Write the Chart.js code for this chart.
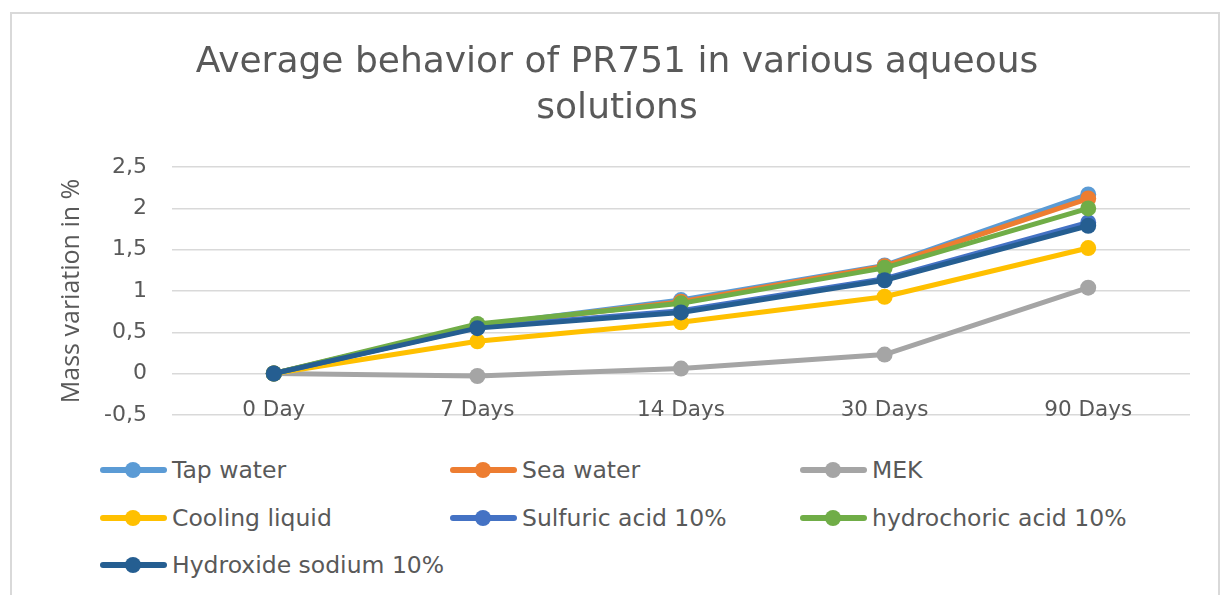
<!DOCTYPE html>
<html>
<head>
<meta charset="utf-8">
<script src="https://cdn.jsdelivr.net/npm/chart.js@4.4.1/dist/chart.umd.min.js"></script>
<style>
  html, body { margin: 0; padding: 0; background: #fff; }
  body { width: 1223px; height: 595px; position: relative; overflow: hidden; }
  .frame { position: absolute; left: 10px; top: 12px; width: 1210px; height: 600px; border: 2px solid #d9d9d9; box-sizing: border-box; }
  .wrap { position: absolute; left: 0; top: 0; width: 1223px; height: 453px; }
  .legend { position: absolute; left: 100px; top: 453px; display: grid; grid-template-columns: 350px 350px 350px; grid-auto-rows: 47.5px;
    font-family: "DejaVu Sans", sans-serif; font-size: 23.5px; color: #595959; }
  .item { display: flex; align-items: center; height: 34px; white-space: nowrap; }
  .mark { position: relative; width: 67px; height: 18px; margin-right: 5px; flex: none; }
  .mark .ln { position: absolute; left: 0; right: 0; top: 6px; height: 6px; border-radius: 3px; }
  .mark .dot { position: absolute; left: 25px; top: 1px; width: 16px; height: 16px; border-radius: 50%; }
</style>
</head>
<body>
<div class="frame"></div>
<div class="wrap"><canvas id="myChart"></canvas></div>
<div class="legend" id="legend"></div>
<script>
const categories = ["0 Day", "7 Days", "14 Days", "30 Days", "90 Days"];
const seriesNames = ["Tap water", "Sea water", "MEK", "Cooling liquid", "Sulfuric acid 10%", "hydrochoric acid 10%", "Hydroxide sodium 10%"];
const tapWater = [0, 0.58, 0.89, 1.31, 2.17];
const seaWater = [0, 0.58, 0.87, 1.30, 2.12];
const mek = [0, -0.03, 0.06, 0.23, 1.04];
const coolingLiquid = [0, 0.39, 0.62, 0.93, 1.52];
const sulfuricAcid = [0, 0.56, 0.76, 1.15, 1.83];
const hydrochoricAcid = [0, 0.60, 0.85, 1.28, 2.00];
const hydroxideSodium = [0, 0.55, 0.74, 1.13, 1.79];
const yTicks = [-0.5, 0, 0.5, 1, 1.5, 2, 2.5];
const colors = ["#5B9BD5", "#ED7D31", "#A5A5A5", "#FFC000", "#4472C4", "#70AD47", "#255E91"];

const values = [tapWater, seaWater, mek, coolingLiquid, sulfuricAcid, hydrochoricAcid, hydroxideSodium];

const datasets = values.map((data, i) => ({
  label: seriesNames[i],
  data: data,
  borderColor: colors[i],
  backgroundColor: colors[i],
  borderWidth: 5,
  pointRadius: 8,
  pointBorderWidth: 0,
  pointHoverRadius: 8,
  tension: 0,
  order: values.length - i,
}));

const ctx = document.getElementById("myChart");

new Chart(ctx, {
  type: "line",
  data: { labels: categories, datasets: datasets },
  options: {
    responsive: true,
    maintainAspectRatio: false,
    animation: false,
    layout: { padding: { left: 44, right: 33, top: 0, bottom: 26 } },
    plugins: {
      legend: { display: false },
      tooltip: { enabled: false },
      title: {
        display: true,
        text: ["Average behavior of PR751 in various aqueous", "solutions"],
        color: "#595959",
        font: { family: "'DejaVu Sans', sans-serif", size: 36, weight: "normal", lineHeight: 1.28 },
        padding: { top: 40, bottom: 35 },
      },
    },
    scales: {
      x: {
        position: { y: 0 },
        offset: true,
        grid: { display: false, drawTicks: false },
        border: { display: false },
        ticks: { color: "#595959", font: { family: "'DejaVu Sans', sans-serif", size: 21.5 }, padding: 24, maxRotation: 0 },
      },
      y: {
        min: -0.5,
        max: 2.5,
        afterBuildTicks: (scale) => { scale.ticks = yTicks.map((v) => ({ value: v })); },
        afterFit: (scale) => { scale.width = 128; },
        grid: { color: "#d9d9d9", lineWidth: 1.5, drawTicks: false },
        border: { display: false },
        ticks: {
          color: "#595959",
          font: { family: "'DejaVu Sans', sans-serif", size: 22 },
          padding: 25,
          callback: (v) => String(v).replace(".", ","),
        },
        title: {
          display: true,
          text: "Mass variation in %",
          color: "#595959",
          font: { family: "'Open Sans', sans-serif", size: 25 },
          padding: { top: 13, bottom: 0 },
        },
      },
    },
  },
});

// legend laid out as in the original 3-column grid
const legendEl = document.getElementById("legend");
datasets.forEach((ds) => {
  legendEl.innerHTML += `
    <div class="item"><span class="mark"><span class="ln" style="background:${ds.borderColor}"></span><span class="dot" style="background:${ds.borderColor}"></span></span>${ds.label}</div>`;
});
</script>
</body>
</html>
